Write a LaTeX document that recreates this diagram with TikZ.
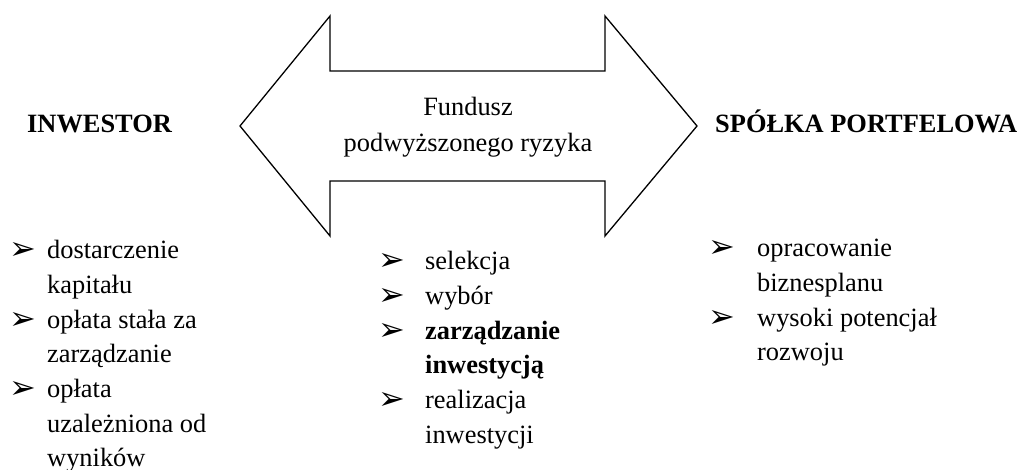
\documentclass[tikz,border=0pt]{standalone}
\usepackage{fontspec}
\setmainfont{Liberation Serif}
\newfontfamily\bulfont{DejaVu Sans}
\begin{document}
\begin{tikzpicture}[x=1pt,y=-1pt,
  txt/.style={anchor=base west,inner sep=0pt,font=\fontsize{26.4}{34}\selectfont},
  ctxt/.style={anchor=base,inner sep=0pt,font=\fontsize{26.4}{34}\selectfont},
  head/.style={anchor=base west,inner sep=0pt,font=\fontsize{26.4}{34}\selectfont\bfseries},
  bul/.style={anchor=base west,inner sep=0pt,font=\bulfont\fontsize{32}{34}\selectfont},
  arrowshape/.style={draw=black,line width=1.3pt,line join=miter,fill=white}]
\useasboundingbox (0,0) rectangle (1026,470);
\clip (0,0) rectangle (1026,470);
% double arrow
\draw[arrowshape] (240,126) -- (330,16) -- (330,71) -- (605,71) -- (605,16) -- (697,126)
  -- (605,236) -- (605,181) -- (330,181) -- (330,236) -- cycle;
\node[ctxt] (f1) at (468,116) {Fundusz};
\node[ctxt] (f2) at (468,152) {podwyższonego ryzyka};
% headings
\node[head] (inw) at (27,133) {INWESTOR};
\node[head] (spo) at (715,133) {SPÓŁKA PORTFELOWA};
% left column
\node[bul] (lb1) at (9,260) {➢};
\node[txt] (l1) at (47,259) {dostarczenie};
\node[txt] (l2) at (47,293.6) {kapitału};
\node[bul] (lb2) at (9,329.2) {➢};
\node[txt] (l3) at (47,328.2) {opłata stała za};
\node[txt] (l4) at (47,362.8) {zarządzanie};
\node[bul] (lb3) at (9,398.4) {➢};
\node[txt] (l5) at (47,397.4) {opłata};
\node[txt] (l6) at (47,432) {uzależniona od};
\node[txt] (l7) at (47,466.6) {wyników};
% middle column
\node[bul] (mb1) at (378,271) {➢};
\node[txt] (m1) at (425,270) {selekcja};
\node[bul] (mb2) at (378,305.6) {➢};
\node[txt] (m2) at (425,304.6) {wybór};
\node[bul] (mb3) at (378,340.2) {➢};
\node[txt,font=\fontsize{26.4}{34}\selectfont\bfseries] (m3) at (425,339.2) {zarządzanie};
\node[txt,font=\fontsize{26.4}{34}\selectfont\bfseries] (m4) at (425,373.8) {inwestycją};
\node[bul] (mb4) at (378,409.4) {➢};
\node[txt] (m5) at (425,408.4) {realizacja};
\node[txt] (m6) at (425,443) {inwestycji};
% right column
\node[bul] (rb1) at (708,258) {➢};
\node[txt] (r1) at (757,257) {opracowanie};
\node[txt] (r2) at (757,291.6) {biznesplanu};
\node[bul] (rb2) at (708,327.2) {➢};
\node[txt] (r3) at (757,326.2) {wysoki potencjał};
\node[txt] (r4) at (757,360.8) {rozwoju};
\end{tikzpicture}
\end{document}
